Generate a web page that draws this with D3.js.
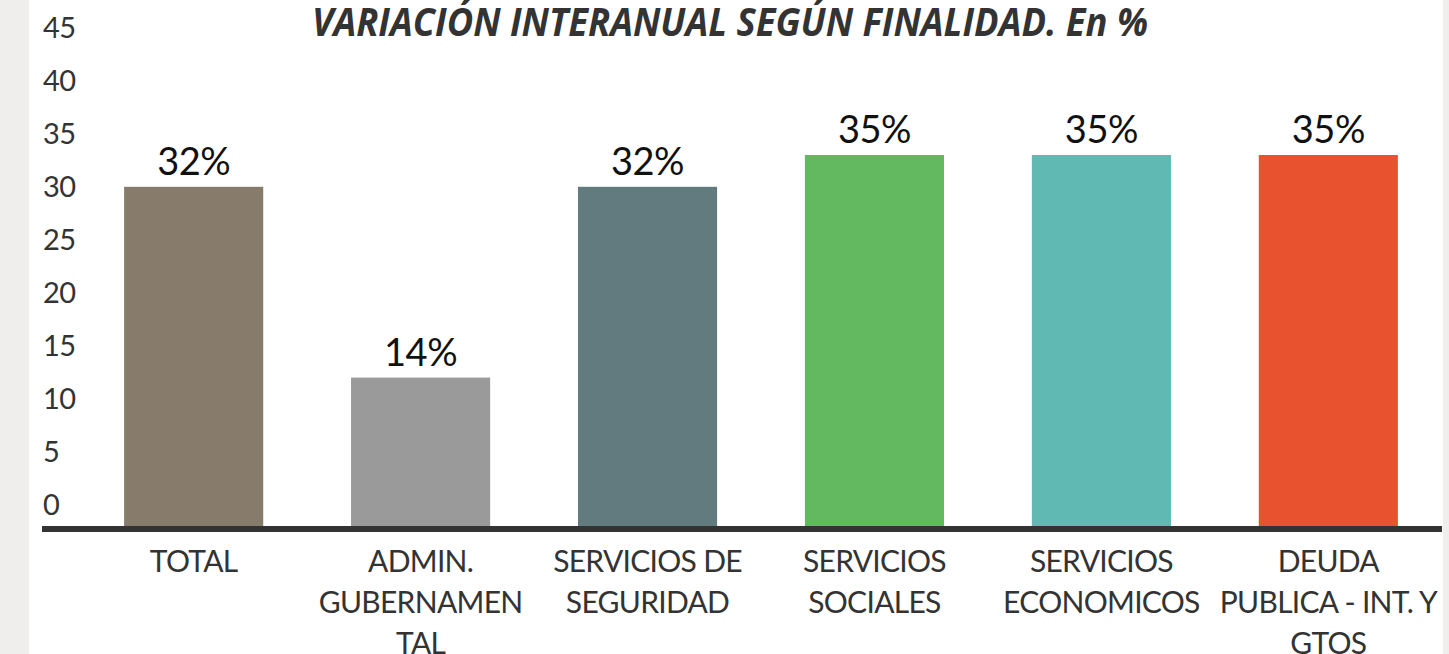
<!DOCTYPE html>
<html>
<head>
<meta charset="utf-8">
<script src="https://cdn.jsdelivr.net/npm/d3@7"></script>
<style>
  body { margin: 0; background: #efeeec; }
  #container { width: 1449px; height: 654px; }
</style>
</head>
<body>
<div id="container"></div>
<script>
const categories = ["TOTAL", "ADMIN. GUBERNAMENTAL", "SERVICIOS DE SEGURIDAD", "SERVICIOS SOCIALES", "SERVICIOS ECONOMICOS", "DEUDA PUBLICA - INT. Y GTOS"];
const categoryLines = [["TOTAL"], ["ADMIN.", "GUBERNAMEN", "TAL"], ["SERVICIOS DE", "SEGURIDAD"], ["SERVICIOS", "SOCIALES"], ["SERVICIOS", "ECONOMICOS"], ["DEUDA", "PUBLICA - INT. Y", "GTOS"]];
const values = [32, 14, 32, 35, 35, 35];
const barColors = ["#877b6b", "#9a9a9a", "#627b7f", "#62b960", "#60b9b2", "#e8522f"];
const yTicks = [0, 5, 10, 15, 20, 25, 30, 35, 40, 45];

const width = 1449;
const height = 654;

const svg = d3.select("#container")
  .append("svg")
  .attr("width", width)
  .attr("height", height);

// white panel
svg.append("rect")
  .attr("x", 29).attr("y", 0)
  .attr("width", 1414).attr("height", height)
  .attr("fill", "#fff");

const x = d3.scaleBand()
  .domain(categories)
  .range([81, 1441])
  .paddingInner(0.387)
  .paddingOuter(0.19);

const y = d3.scaleLinear()
  .domain([0, 45])
  .range([526, 49]);

// y axis, labels sit a bit above their tick
const yAxis = svg.append("g")
  .attr("transform", "translate(43,0)")
  .call(d3.axisLeft(y).tickValues(yTicks).tickSize(0));
yAxis.select(".domain").remove();
yAxis.selectAll("text")
  .attr("x", 0)
  .attr("dy", "-0.4em")
  .attr("text-anchor", "start")
  .attr("fill", "#333")
  .style("font-family", "Lato, sans-serif")
  .style("font-size", "29px")
  .style("letter-spacing", "-0.5px");

// bars
svg.selectAll("rect.bar")
  .data(values)
  .enter()
  .append("rect")
  .attr("class", "bar")
  .attr("x", (d, i) => x(categories[i]))
  .attr("y", d => y(d))
  .attr("width", x.bandwidth())
  .attr("height", d => y(0) - y(d))
  .attr("fill", (d, i) => barColors[i]);

// value labels
svg.selectAll("text.val")
  .data(values)
  .enter()
  .append("text")
  .attr("class", "val")
  .attr("x", (d, i) => x(categories[i]) + x.bandwidth() / 2)
  .attr("y", d => y(d) - 12)
  .attr("text-anchor", "middle")
  .attr("fill", "#111")
  .style("font-family", "Lato, sans-serif")
  .style("font-size", "38px")
  .style("letter-spacing", "-0.5px")
  .text(d => d + "%");

// baseline
svg.append("line")
  .attr("x1", 42).attr("x2", 1442)
  .attr("y1", y(0) + 3).attr("y2", y(0) + 3)
  .attr("stroke", "#333")
  .attr("stroke-width", 6);

// category labels
const cat = svg.selectAll("text.cat")
  .data(categoryLines)
  .enter()
  .append("text")
  .attr("class", "cat")
  .attr("x", (d, i) => x(categories[i]) + x.bandwidth() / 2)
  .attr("y", 572)
  .attr("text-anchor", "middle")
  .attr("fill", "#333")
  .style("font-family", "Lato, sans-serif")
  .style("font-size", "30px")
  .style("letter-spacing", "-0.7px");

cat.each(function(lines, i) {
  const cx = x(categories[i]) + x.bandwidth() / 2;
  d3.select(this).selectAll("tspan")
    .data(lines)
    .enter()
    .append("tspan")
    .attr("x", cx)
    .attr("dy", (d, j) => j === 0 ? 0 : 41)
    .text(d => d);
});

// title
svg.append("text")
  .attr("x", 312)
  .attr("y", 36)
  .attr("textLength", 836)
  .attr("lengthAdjust", "spacingAndGlyphs")
  .attr("fill", "#333")
  .style("font-family", "'Open Sans', sans-serif")
  .style("font-weight", "bold")
  .style("font-style", "italic")
  .style("font-size", "39px")
  .text("VARIACIÓN INTERANUAL SEGÚN FINALIDAD. En %");
</script>
</body>
</html>
